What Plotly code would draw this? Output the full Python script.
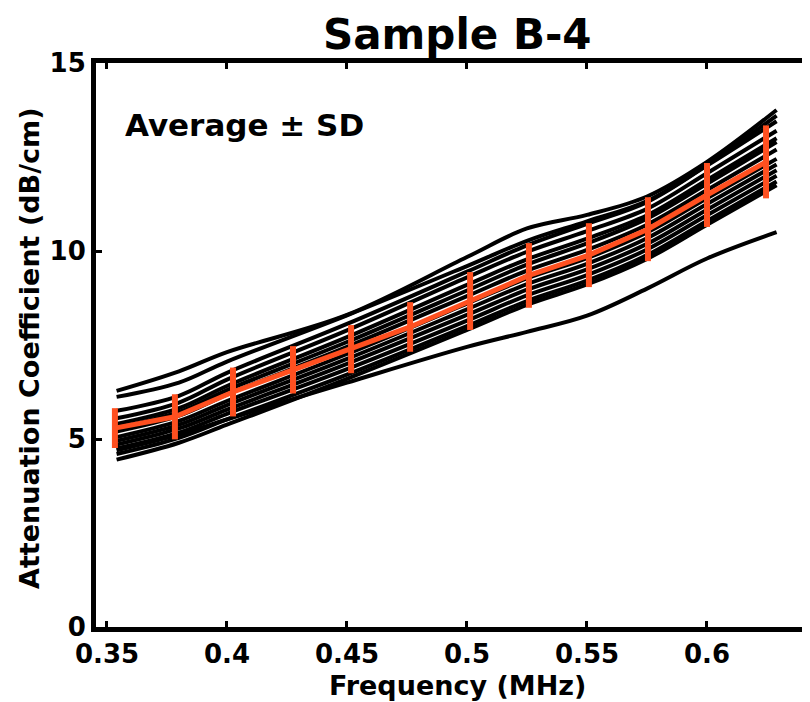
import plotly.graph_objects as go

# Frequency knots (MHz) at which the individual curves were read
freq = [0.354, 0.38, 0.40, 0.45, 0.50, 0.525, 0.55, 0.575, 0.60, 0.629]

# Individual attenuation curves (dB/cm)
c1 = [6.28, 6.80, 7.31, 8.30, 9.84, 10.60, 10.96, 11.45, 12.37, 13.75]
c2 = [6.12, 6.50, 7.06, 8.29, 9.60, 10.27, 10.79, 11.33, 12.29, 13.60]
c3 = [5.75, 6.15, 6.76, 8.06, 9.45, 10.15, 10.72, 11.30, 12.27, 13.45]
c4 = [5.55, 5.97, 6.58, 7.89, 9.30, 9.98, 10.53, 11.12, 12.07, 13.20]
c5 = [5.40, 5.82, 6.41, 7.71, 9.10, 9.78, 10.33, 10.95, 11.89, 13.00]
c6 = [5.30, 5.72, 6.30, 7.58, 8.95, 9.64, 10.20, 10.86, 11.79, 12.90]
c7 = [5.20, 5.62, 6.18, 7.45, 8.80, 9.48, 10.03, 10.70, 11.62, 12.70]
c8 = [5.05, 5.48, 6.01, 7.26, 8.60, 9.27, 9.81, 10.49, 11.40, 12.45]
c9 = [4.95, 5.38, 5.90, 7.13, 8.45, 9.12, 9.66, 10.34, 11.25, 12.30]
c10 = [4.85, 5.28, 5.78, 7.00, 8.30, 8.97, 9.51, 10.19, 11.10, 12.15]
c11 = [4.75, 5.17, 5.67, 6.86, 8.15, 8.82, 9.36, 10.04, 10.95, 12.00]
c12 = [4.60, 5.03, 5.52, 6.71, 8.00, 8.67, 9.21, 9.89, 10.80, 11.85]
c13 = [4.45, 4.90, 5.38, 6.60, 7.90, 8.57, 9.11, 9.79, 10.70, 11.75]
c14 = [4.70, 5.12, 5.52, 6.50, 7.45, 7.85, 8.28, 9.00, 9.80, 10.50]
curves = [c1, c2, c3, c4, c5, c6, c7, c8, c9, c10, c11, c12, c13, c14]

# Average +/- SD
avg_freq = [0.3533, 0.3783, 0.4025, 0.4275, 0.4517, 0.4763, 0.5013, 0.5258, 0.5508, 0.5754, 0.6000, 0.6246]
avg_val = [5.29, 5.59, 6.25, 6.84, 7.39, 7.98, 8.67, 9.35, 9.89, 10.58, 11.49, 12.37]
avg_sd = [0.53, 0.60, 0.65, 0.63, 0.64, 0.66, 0.77, 0.86, 0.85, 0.85, 0.85, 0.97]

x_ticks = [0.35, 0.4, 0.45, 0.5, 0.55, 0.6]
x_tick_text = ["0.35", "0.4", "0.45", "0.5", "0.55", "0.6"]
y_ticks = [0, 5, 10, 15]

ORANGE = "#FF5020"
FONT = "DejaVu Sans"

fig = go.Figure()
for c in curves:
    fig.add_trace(go.Scatter(x=freq, y=c, mode="lines",
                             line=dict(color="black", width=4, shape="spline", smoothing=1.0),
                             showlegend=False, hoverinfo="skip"))

fig.add_trace(go.Scatter(x=avg_freq, y=avg_val, mode="lines",
                         line=dict(color=ORANGE, width=5),
                         error_y=dict(type="data", array=avg_sd, visible=True,
                                      color=ORANGE, thickness=6, width=0),
                         showlegend=False))

# page is offset by the 8px body margin; figure sized to fit the window
OFF = 8
W, H = 802, 694
L, T, B = 96 - OFF, 63 - OFF, 694 - (627 - OFF)
pw = W - L
ph = H - T - B

fig.update_layout(
    width=W, height=H,
    margin=dict(l=L, r=0, t=T, b=B),
    plot_bgcolor="white", paper_bgcolor="white",
    font=dict(family=FONT, color="black", size=26, weight="bold"),
    xaxis=dict(range=[0.34542, 0.64292], tickvals=x_ticks, ticktext=x_tick_text,
               ticks="inside", ticklen=6, tickwidth=3, tickcolor="black",
               showline=True, linewidth=5, linecolor="black", mirror="allticks",
               showgrid=False, zeroline=False,
               tickfont=dict(family=FONT, size=26, weight="bold")),
    yaxis=dict(range=[0, 15], tickvals=y_ticks,
               ticks="inside", ticklen=6, tickwidth=3, tickcolor="black",
               showline=True, linewidth=5, linecolor="black",
               showgrid=False, zeroline=False,
               tickfont=dict(family=FONT, size=26, weight="bold")),
)

def px_x(p):
    return (p - OFF - L) / pw

def px_y(p):
    return (H - B - (p - OFF)) / ph

fig.add_annotation(text="Sample B-4", x=px_x(457), y=px_y(34), xref="paper", yref="paper",
                   showarrow=False, xanchor="center", yanchor="middle",
                   font=dict(family=FONT, size=42, weight="bold", color="black"))
fig.add_annotation(text="Frequency (MHz)", x=px_x(457), y=px_y(685), xref="paper", yref="paper",
                   showarrow=False, xanchor="center", yanchor="middle",
                   font=dict(family=FONT, size=27, weight="bold", color="black"))
fig.add_annotation(text="Attenuation Coefficient (dB/cm)", x=px_x(30), y=px_y(348),
                   xref="paper", yref="paper", textangle=-90,
                   showarrow=False, xanchor="center", yanchor="middle",
                   font=dict(family=FONT, size=27, weight="bold", color="black"))
fig.add_annotation(text="Average ± SD", x=px_x(123), y=px_y(125), xref="paper", yref="paper",
                   showarrow=False, xanchor="left", yanchor="middle",
                   font=dict(family=FONT, size=31, weight="bold", color="black"))

fig.write_html("out.html")
